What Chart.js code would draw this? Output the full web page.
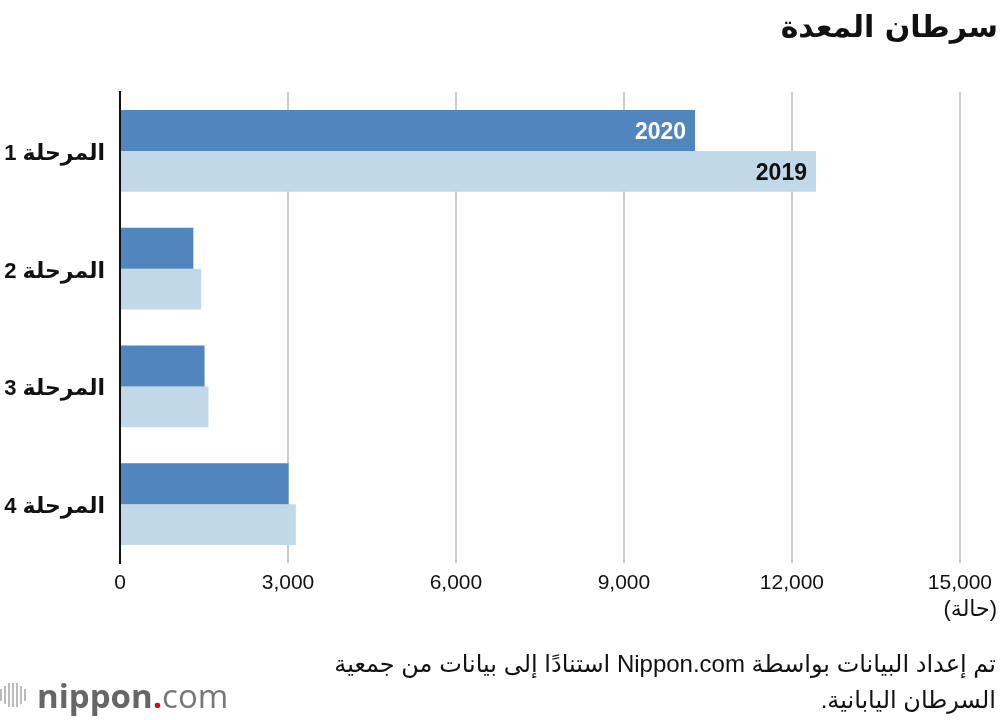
<!DOCTYPE html>
<html lang="ar">
<head>
<meta charset="utf-8">
<script src="https://cdn.jsdelivr.net/npm/chart.js@4"></script>
<style>
  html, body { margin: 0; padding: 0; background: #fff; }
  #wrap { position: relative; width: 1000px; height: 720px; overflow: hidden;
          font-family: "Liberation Sans", "DejaVu Sans", sans-serif; color: #111; }
  #graphic { position: absolute; left: 0; top: 0; }
  .txt { position: absolute; direction: rtl; white-space: nowrap; }
  #title { right: 2px; top: 9px; font: bold 30px "DejaVu Sans", sans-serif; }
  #unit { right: 3px; top: 596px; font-size: 22px; }
  #note { right: 4px; top: 646px; font-size: 24px; line-height: 36px; text-align: right; }
  #logo { position: absolute; left: 0px; top: 675px; height: 40px; display: flex; align-items: center; }
  #logo .bars { display: flex; align-items: center; gap: 2px; margin-right: 11px; }
  #logo .bars i { display: block; width: 2px; background: #bbb; }
  #logo .word { font: bold 33px "Open Sans", sans-serif; color: #666; }
  #logo .dot { color: #e60012; }
  #logo .com { font-weight: normal; color: #777; }
</style>
</head>
<body>
<div id="wrap">
  <canvas id="graphic" width="1000" height="720"></canvas>
  <div class="txt" id="title">سرطان المعدة</div>
  <div class="txt" id="unit">(حالة)</div>
  <div class="txt" id="note">تم إعداد البيانات بواسطة Nippon.com استنادًا إلى بيانات من جمعية<br>السرطان اليابانية.</div>
  <div id="logo">
    <span class="bars"><i style="height:12px"></i><i style="height:18px"></i><i style="height:24px"></i><i style="height:24px"></i><i style="height:24px"></i><i style="height:18px"></i><i style="height:12px"></i></span>
    <span class="word">nippon<span class="dot">.</span><span class="com">com</span></span>
  </div>
</div>
<script>
const stages = ["المرحلة 1", "المرحلة 2", "المرحلة 3", "المرحلة 4"]
const cases_2020 = [10270, 1310, 1510, 3010]
const cases_2019 = [12430, 1450, 1580, 3140]
const x_ticks = [0, 3000, 6000, 9000, 12000, 15000]
const label_2020 = "2020"
const label_2019 = "2019"

const graphic = document.querySelector("#graphic")

// labels inside the first pair of bars
const yearLabels = {
  id: "yearLabels",
  afterDatasetsDraw(chart) {
    const ctx = chart.ctx
    ctx.save()
    ctx.font = "bold 23px 'Liberation Sans', sans-serif"
    ctx.textAlign = "right"
    ctx.textBaseline = "middle"
    chart.data.datasets.forEach((ds, i) => {
      const bar = chart.getDatasetMeta(i).data[0]
      ctx.fillStyle = i === 0 ? "#ffffff" : "#111111"
      ctx.fillText(ds.label, bar.x - 9, bar.y + 2)
    })
    ctx.restore()
  }
}

const chart = new Chart(graphic, {
  type: "bar",
  data: {
    labels: stages,
    datasets: [
      {
        label: label_2020,
        data: cases_2020,
        backgroundColor: "rgb(81,133,190)",
        categoryPercentage: 0.695,
        barPercentage: 1.0,
      },
      {
        label: label_2019,
        data: cases_2019,
        backgroundColor: "rgb(193,216,232)",
        categoryPercentage: 0.695,
        barPercentage: 1.0,
      },
    ],
  },
  options: {
    indexAxis: "y",
    responsive: false,
    animation: false,
    layout: { padding: { top: 92, right: 40, bottom: 117, left: 0 } },
    plugins: { legend: { display: false }, tooltip: { enabled: false } },
    scales: {
      x: {
        min: 0,
        max: 15000,
        afterBuildTicks: (s) => { s.ticks = x_ticks.map((v) => ({ value: v })) },
        afterFit: (s) => { s.height = 40 },
        grid: { color: "#cccccc", lineWidth: 2, drawTicks: false },
        border: { display: false },
        ticks: {
          padding: 8,
          color: "#111",
          font: { family: "'Liberation Sans', sans-serif", size: 21 },
          callback: (v) => v.toLocaleString("en-US"),
        },
      },
      y: {
        afterFit: (s) => { s.width = 120 },
        grid: { display: false, drawTicks: false },
        border: { display: true, color: "#111", width: 2 },
        ticks: {
          padding: 15,
          labelOffset: 3,
          color: "#111",
          font: { family: "'Liberation Sans', 'DejaVu Sans', sans-serif", size: 22, weight: "bold" },
        },
      },
    },
  },
  plugins: [yearLabels],
})
</script>
</body>
</html>
